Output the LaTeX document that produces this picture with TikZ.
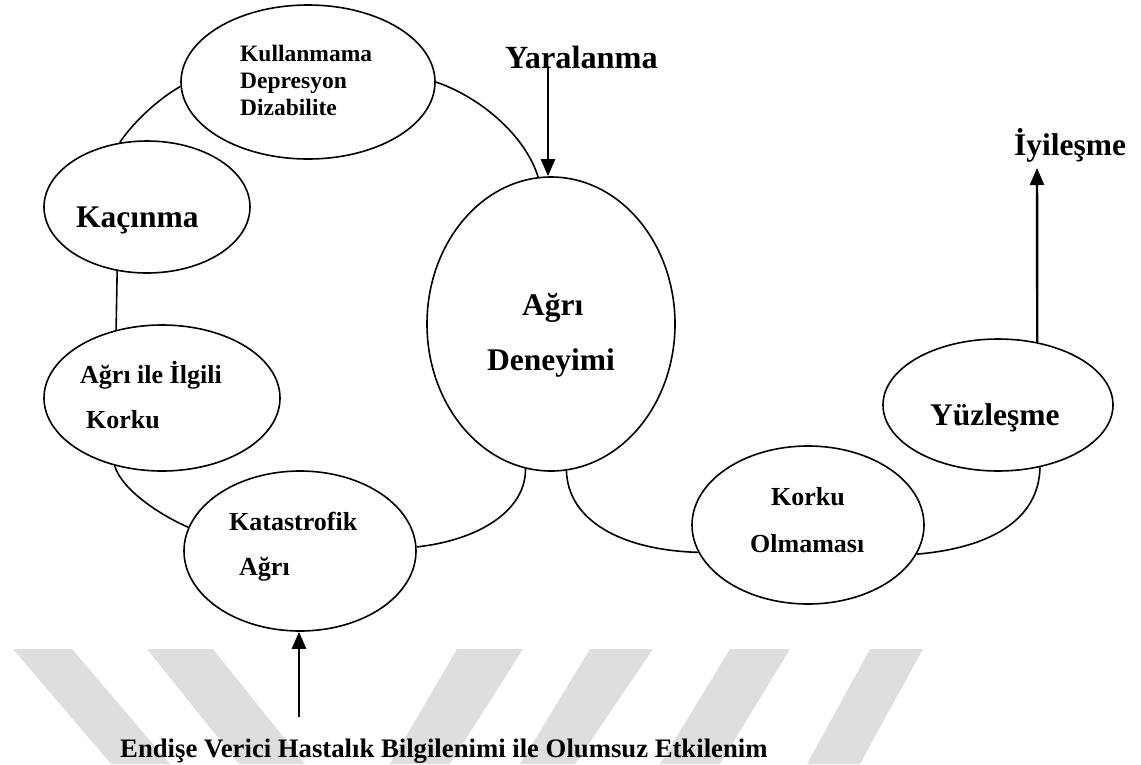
\documentclass[tikz,border=0pt]{standalone}
\usepackage{fontspec}
\setmainfont{Liberation Serif}
\usetikzlibrary{arrows.meta,shapes.geometric}
\begin{document}
\begin{tikzpicture}[x=1pt,y=-1pt,
  ell/.style={draw, line width=1.6pt, ellipse, inner sep=0pt},
  conn/.style={line width=1.6pt},
  arr/.style={line width=2.4pt, -{Triangle[width=14pt,length=17pt]}},
  wm/.style={fill=black!13},
  lbl/.style={anchor=base west, inner sep=0pt, font=\bfseries\fontsize{26}{30}\selectfont},
  lblsm/.style={lbl, font=\bfseries\fontsize{23.5}{28}\selectfont},
  lblbig/.style={lbl, font=\bfseries\fontsize{31.5}{36}\selectfont},
  lblfoot/.style={lbl, font=\bfseries\fontsize{26.7}{30}\selectfont}]
\useasboundingbox (0,0) rectangle (1141,764);
% watermark
\fill[wm] (13,649) -- (72,649) -- (170,764) -- (111,764) -- cycle;
\fill[wm] (147,649) -- (213,649) -- (305,764) -- (239,764) -- cycle;
\fill[wm] (457,649) -- (523,649) -- (450,764) -- (390,764) -- cycle;
\fill[wm] (590,649) -- (653,649) -- (575,764) -- (520,764) -- cycle;
\fill[wm] (730,649) -- (790,649) -- (720,764) -- (660,764) -- cycle;
\fill[wm] (870,649) -- (923,649) -- (860,764) -- (807,764) -- cycle;
% ellipses
\node[ell, minimum width=254pt, minimum height=154pt] (kul) at (308,82) {};
\node[ell, minimum width=206pt, minimum height=132pt] (kac) at (147,207) {};
\node[ell, minimum width=236pt, minimum height=146pt] (kor) at (162,398) {};
\node[ell, minimum width=232pt, minimum height=160pt] (kat) at (300,551) {};
\node[ell, minimum width=248pt, minimum height=294pt] (den) at (551,324) {};
\node[ell, minimum width=232pt, minimum height=158pt] (olm) at (808,525) {};
\node[ell, minimum width=230pt, minimum height=132pt] (yuz) at (998,405) {};
% texts
\node[lblsm] (t1) at (240,61) {Kullanmama};
\node[lblsm] (t2) at (240,88) {Depresyon};
\node[lblsm] (t3) at (240,115) {Dizabilite};
\node[lblbig] (t4) at (76,227) {Kaçınma};
\node[lbl] (t5) at (80,383) {Ağrı ile İlgili};
\node[lbl] (t6) at (86,428) {Korku};
\node[lbl] (t7) at (229,530) {Katastrofik};
\node[lbl] (t8) at (239,575) {Ağrı};
\node[lblbig] (t9) at (522,315) {Ağrı};
\node[lblbig] (t10) at (487,370) {Deneyimi};
\node[lbl] (t11) at (771,505) {Korku};
\node[lbl] (t12) at (750,552) {Olmaması};
\node[lblbig] (t13) at (930,425) {Yüzleşme};
\node[lblbig, font=\bfseries\fontsize{32.3}{36}\selectfont] (yar) at (505,68) {Yaralanma};
\node[lblbig] (iyi) at (1014,155) {İyileşme};
\node[lblfoot] (end) at (120,757) {Endişe Verici Hastalık Bilgilenimi ile Olumsuz Etkilenim};
% connectors
\draw[conn] (kul.east) .. controls (480,97) and (525,135) .. (den.95);
\draw[conn] (kac.113) .. controls (135,120) and (160,98) .. (kul.182);
\draw[conn] (kac.245) -- (kor.124);
\draw[conn] (kor.235) .. controls (122,490) and (160,515) .. (kat.168);
\draw[conn] (kat.2) .. controls (480,540) and (526,510) .. (den.260);
\draw[conn] (den.276) .. controls (568,520) and (620,550) .. (olm.194);
\draw[conn] (olm.-15) .. controls (990,548) and (1039,520) .. (yuz.-56);
% arrows
\coordinate (yarTop) at (548,66);
\draw[arr] (yarTop) -- (yarTop |- den.north);
\coordinate (iyiEnd) at (1037,168);
\draw[arr] (yuz.58) -- (iyiEnd);
\coordinate (endStart) at (299,717);
\draw[arr] (endStart) -- (endStart |- kat.south);
\end{tikzpicture}
\end{document}
